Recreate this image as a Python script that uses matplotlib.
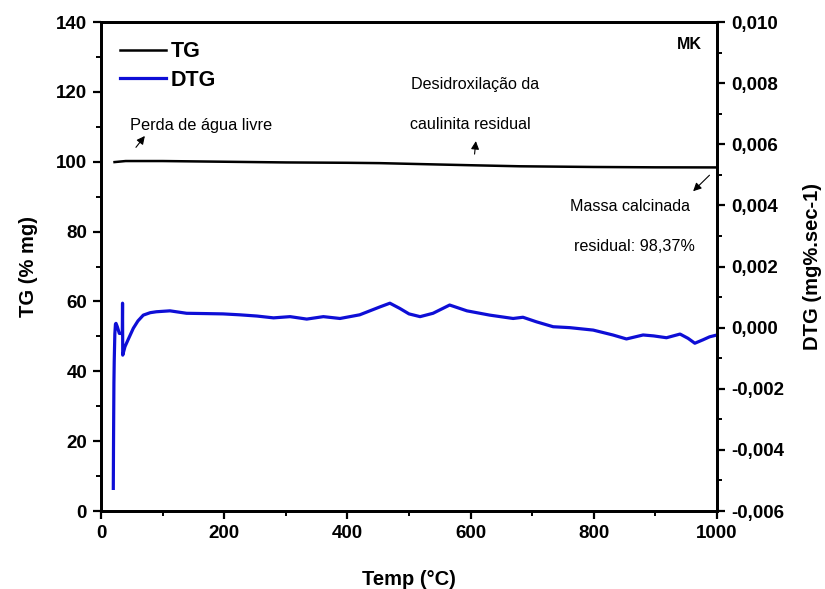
import matplotlib
matplotlib.use("Agg")
import matplotlib.pyplot as plt
from matplotlib.ticker import MultipleLocator, FuncFormatter

plt.rcParams['font.family'] = ['Liberation Sans', 'DejaVu Sans']

# TG curve (% mass) vs temperature
tg_temp = [22, 40, 100, 200, 300, 400, 453, 550, 600, 680, 800, 900, 1000]
tg_mass = [99.9, 100.2, 100.2, 100.0, 99.8, 99.7, 99.6, 99.2, 99.0, 98.7, 98.5, 98.4, 98.37]

# DTG curve (mg%/sec) vs temperature
dtg_temp = [20.0, 20.3, 20.6, 21.0, 21.5, 22.5, 23.5, 24.4, 26.5, 29.8, 34.6, 35.0,
            35.3, 39, 45, 52.5, 60, 68.7, 80, 90, 112, 139, 170, 198, 225, 253, 280,
            307, 334, 361, 388, 420, 453, 469, 485, 500, 518, 539, 566, 594, 631,
            669, 685, 707, 734, 761, 799, 831, 853, 880, 897, 918, 940, 953, 964,
            977, 988, 1000]
dtg_rate = [-0.00526, -0.0040, -0.0030, -0.0018, -0.0011, -0.0002, 0.00012, 0.00014,
            0.00003, -0.00019, -0.00019, 0.00080, -0.00090, -0.00062, -0.00035,
            -0.00002, 0.00022, 0.00041, 0.00049, 0.00052, 0.00055, 0.00047, 0.00046,
            0.00045, 0.00042, 0.00038, 0.00032, 0.00036, 0.00028, 0.00036, 0.00030,
            0.00042, 0.00068, 0.00080, 0.00063, 0.00045, 0.00036, 0.00047, 0.00074,
            0.00055, 0.00041, 0.00030, 0.00034, 0.00019, 0.00003, 0.0, -0.00008,
            -0.00024, -0.00037, -0.00024, -0.00027, -0.00033, -0.00021, -0.00035,
            -0.00051, -0.00040, -0.00030, -0.00024]

residual = 98.37

fig = plt.figure(figsize=(8.25, 5.89), dpi=100)
ax = fig.add_axes([0.1224, 0.1324, 0.7467, 0.8302])
ax2 = ax.twinx()

l1, = ax.plot(tg_temp, tg_mass, color='black', lw=1.8)
l2, = ax2.plot(dtg_temp, dtg_rate, color='#0e0ed6', lw=2.3)

ax.set_xlim(0, 1000)
ax.set_ylim(0, 140)
ax2.set_ylim(-0.006, 0.010)

ax.xaxis.set_major_locator(MultipleLocator(200))
ax.xaxis.set_minor_locator(MultipleLocator(100))
ax.yaxis.set_major_locator(MultipleLocator(20))
ax.yaxis.set_minor_locator(MultipleLocator(10))
ax2.yaxis.set_major_locator(MultipleLocator(0.002))
ax2.yaxis.set_minor_locator(MultipleLocator(0.001))
ax2.yaxis.set_major_formatter(FuncFormatter(lambda v, p: f"{v:.3f}".replace('.', ',')))

for a in (ax, ax2):
    for s in a.spines.values():
        s.set_linewidth(2.0)
    a.tick_params(which='major', direction='out', length=6, width=1.6,
                  labelsize=13.5, pad=4)
    a.tick_params(which='minor', direction='out', length=3.8, width=1.4)
    for lab in a.get_xticklabels() + a.get_yticklabels():
        lab.set_fontweight('bold')

ax.set_xlabel('Temp (°C)', fontsize=14.5, fontweight='bold', labelpad=20)
ax.set_ylabel('TG (% mg)', fontsize=14.5, fontweight='bold', labelpad=13)
ax2.set_ylabel('DTG (mg%.sec-1)', fontsize=14.5, fontweight='bold', labelpad=14)

leg = ax.legend([l1, l2], ['TG', 'DTG'], loc='upper left', frameon=False,
                bbox_to_anchor=(0.0, 1.0), handlelength=2.1, handletextpad=0.25,
                labelspacing=0.35, prop={'size': 15.5, 'weight': 'bold'})

ax.text(975, 133.5, 'MK', fontsize=11.5, fontweight='bold', ha='right', va='center')

# annotations
arrow = dict(arrowstyle='-|>', color='black', lw=0.8, mutation_scale=12)
ax.text(47, 110.5, 'Perda de água livre', fontsize=11.8, va='center')
ax.annotate('', xy=(74, 108), xytext=(54, 103.5), arrowprops=arrow)

ax.text(503, 122, 'Desidroxilação da', fontsize=11.6, va='center')
ax.text(502, 110.8, 'caulinita residual', fontsize=11.6, va='center')
ax.annotate('', xy=(609, 106.7), xytext=(606, 101.4), arrowprops=arrow)

ax.text(761, 87.1, 'Massa calcinada', fontsize=11.6, va='center')
ax.text(768, 75.7, f'residual: {residual:.2f}%'.replace('.', ','), fontsize=11.6, va='center')
ax.annotate('', xy=(958, 91), xytext=(991, 96.7), arrowprops=arrow)

fig.savefig('out.png', dpi=100)
